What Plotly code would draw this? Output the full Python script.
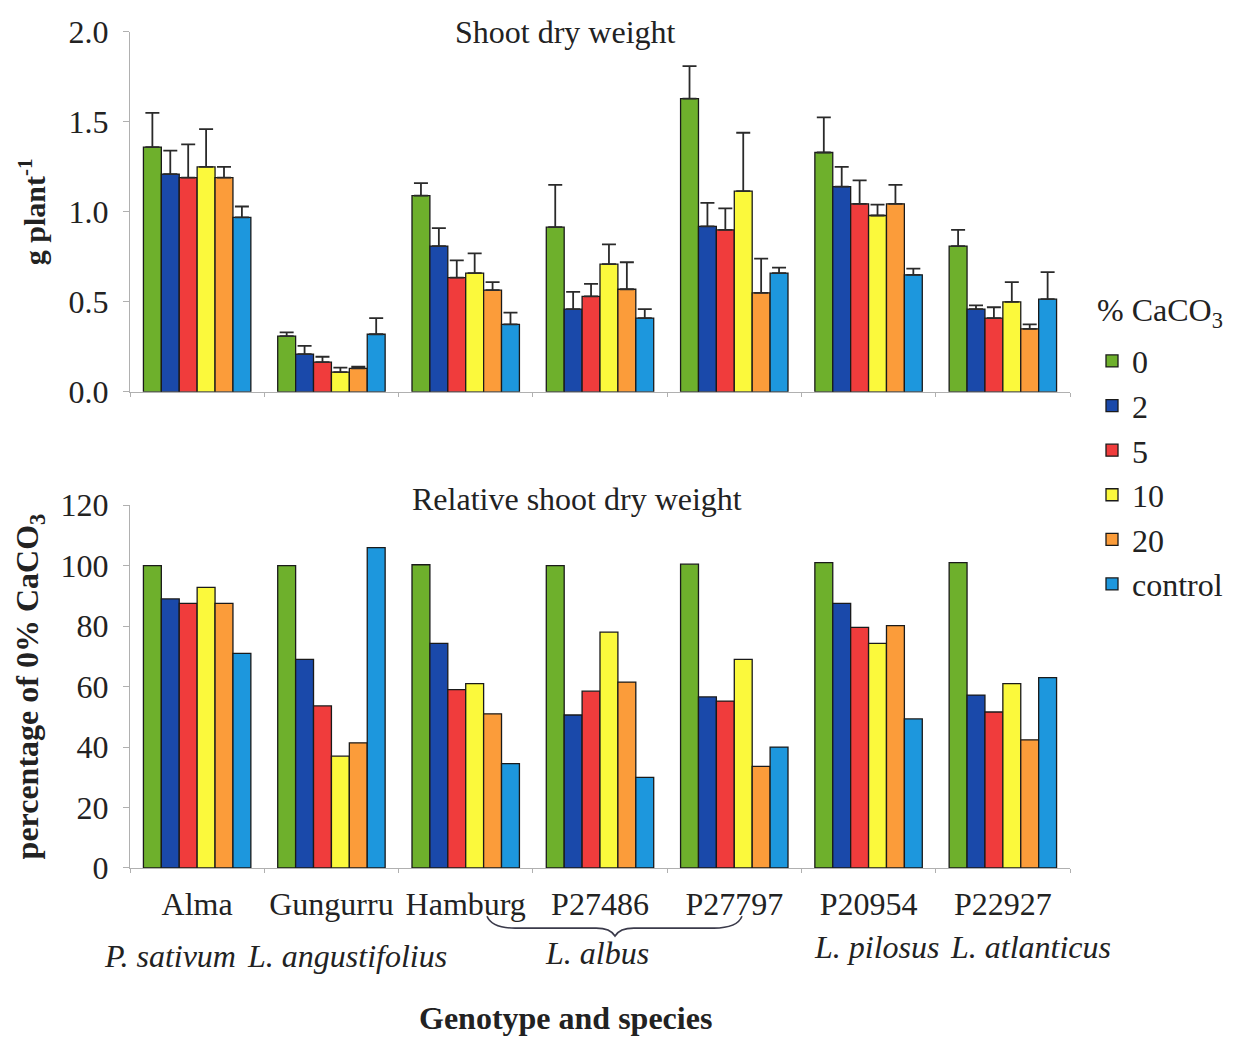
import plotly.graph_objects as go

# Genotypes (x categories) and CaCO3 treatments (series)
genotypes = ["Alma", "Gungurru", "Hamburg", "P27486", "P27797", "P20954", "P22927"]
treatments = ["0", "2", "5", "10", "20", "control"]

# Shoot dry weight, g plant-1 (means)
shoot_0 = [1.36, 0.31, 1.09, 0.915, 1.63, 1.33, 0.81]
shoot_2 = [1.21, 0.21, 0.81, 0.46, 0.92, 1.14, 0.46]
shoot_5 = [1.19, 0.165, 0.635, 0.53, 0.90, 1.045, 0.41]
shoot_10 = [1.25, 0.11, 0.66, 0.71, 1.115, 0.98, 0.50]
shoot_20 = [1.19, 0.13, 0.565, 0.57, 0.55, 1.045, 0.35]
shoot_ctrl = [0.97, 0.32, 0.375, 0.41, 0.66, 0.65, 0.515]

# Standard errors (upper bars only)
se_0 = [0.19, 0.02, 0.07, 0.235, 0.18, 0.195, 0.09]
se_2 = [0.13, 0.045, 0.10, 0.095, 0.13, 0.11, 0.02]
se_5 = [0.185, 0.03, 0.095, 0.07, 0.12, 0.13, 0.06]
se_10 = [0.21, 0.025, 0.11, 0.11, 0.325, 0.06, 0.11]
se_20 = [0.06, 0.01, 0.045, 0.15, 0.19, 0.105, 0.025]
se_ctrl = [0.06, 0.09, 0.065, 0.05, 0.03, 0.035, 0.15]

# Relative shoot dry weight, % of 0% CaCO3
rel_0 = [100, 100, 100.3, 100, 100.5, 101, 101]
rel_2 = [89, 69, 74.3, 50.6, 56.6, 87.5, 57.2]
rel_5 = [87.5, 53.6, 59, 58.5, 55.2, 79.6, 51.6]
rel_10 = [92.8, 37, 61, 78, 69, 74.3, 61]
rel_20 = [87.5, 41.4, 51, 61.5, 33.6, 80.2, 42.4]
rel_ctrl = [71, 106, 34.5, 30, 40, 49.3, 63]

# Species under the genotype labels
species = ["P. sativum", "L. angustifolius", "L. albus", "L. pilosus", "L. atlanticus"]

colors = ["#6eb02c", "#1a49aa", "#f03c3c", "#fbf93c", "#fb9c3a", "#1d97dd"]

shoot = [shoot_0, shoot_2, shoot_5, shoot_10, shoot_20, shoot_ctrl]
errs = [se_0, se_2, se_5, se_10, se_20, se_ctrl]
rel = [rel_0, rel_2, rel_5, rel_10, rel_20, rel_ctrl]

FONT = "Liberation Serif, Times New Roman, serif"
FS = 32
TXT = "#222222"
AX = "#b0b0b0"

fig = go.Figure()
for i, t in enumerate(treatments):
    fig.add_trace(go.Bar(
        x=genotypes, y=shoot[i], name=t, legendgroup=t,
        marker=dict(color=colors[i], line=dict(color="#1a1a1a", width=1.3)),
        error_y=dict(type="data", array=errs[i], arrayminus=[0] * len(genotypes),
                     symmetric=False, color="#2a2a2a", thickness=1.8, width=7),
        xaxis="x", yaxis="y",
    ))
for i, t in enumerate(treatments):
    fig.add_trace(go.Bar(
        x=genotypes, y=rel[i], name=t, legendgroup=t, showlegend=False,
        marker=dict(color=colors[i], line=dict(color="#1a1a1a", width=1.3)),
        xaxis="x2", yaxis="y2",
    ))

W, H = 1240, 1037
L, R, T, B = 130, 170, 18, 169
PW, PH = W - L - R, H - T - B


def px(x):
    return (x - L) / PW


def py(y):
    return (H - B - y) / PH


axis_common = dict(
    showline=True, linecolor=AX, linewidth=1, ticks="outside", tickcolor=AX,
    showgrid=False, zeroline=False,
    tickfont=dict(family=FONT, size=FS, color=TXT),
)

fig.update_layout(
    width=W, height=H,
    margin=dict(l=L, r=R, t=T, b=B),
    paper_bgcolor="white", plot_bgcolor="white",
    barmode="group", bargap=0.2, bargroupgap=0,
    font=dict(family=FONT, size=FS, color=TXT),
    xaxis=dict(domain=[0, 1], anchor="y", showticklabels=False, tickson="boundaries",
               ticklen=4, **axis_common),
    yaxis=dict(domain=[py(385), py(20)], anchor="x", range=[0, 2.0], dtick=0.5, tickformat=".1f",
               ticklen=6, ticklabelstandoff=8,
               title=dict(text="<b>g plant<sup>-1</sup></b>", font=dict(family=FONT, size=30, color=TXT),
                          standoff=14),
               **axis_common),
    xaxis2=dict(domain=[0, 1], anchor="y2", tickson="boundaries", ticklen=4,
                ticklabelstandoff=8, **axis_common),
    yaxis2=dict(domain=[0, py(500)], anchor="x2", range=[0, 120], dtick=20,
                ticklen=6, ticklabelstandoff=8,
                title=dict(text="<b>percentage of 0% CaCO<sub>3</sub></b>",
                           font=dict(family=FONT, size=FS, color=TXT), standoff=12),
                **axis_common),
    legend=dict(
        x=px(1092), y=py(326), xanchor="left", yanchor="top",
        font=dict(family=FONT, size=FS, color=TXT),
        tracegroupgap=0, bgcolor="rgba(0,0,0,0)",
    ),
)


def label(text, x, y, size=FS, anchor="center"):
    fig.add_annotation(text=text, x=px(x), y=py(y), xref="paper", yref="paper",
                       xanchor=anchor, yanchor="middle", showarrow=False,
                       font=dict(family=FONT, size=size, color=TXT))


# Legend heading
label("% CaCO<sub>3</sub>", 1095, 305, anchor="left")

# Panel titles
label("Shoot dry weight", 565, 20)
label("Relative shoot dry weight", 577, 494)

# Species names (italic)
species_pos = [(170, 957), (347, 957), (597, 954), (876, 948), (1030, 948)]
for name, (sx, sy) in zip(species, species_pos):
    label(f"<i>{name}</i>", sx, sy)

# Brace grouping the three L. albus genotypes
bx0, bx1, bm = px(487), px(742), px(615)
yt, yh, yd = py(917), py(929), py(937)
brace = (f"M {bx0},{yt} Q {bx0 + 0.005},{yh} {bx0 + 0.03},{yh} "
         f"L {bm - 0.02},{yh} Q {bm - 0.005},{yh} {bm},{yd} "
         f"Q {bm + 0.005},{yh} {bm + 0.02},{yh} "
         f"L {bx1 - 0.03},{yh} Q {bx1 - 0.005},{yh} {bx1},{yt}")
fig.add_shape(type="path", path=brace, xref="paper", yref="paper",
              line=dict(color="#3a3a4a", width=1.6))

# Shared x-axis title
label("<b>Genotype and species</b>", 565, 1020)

fig.write_html("out.html")
